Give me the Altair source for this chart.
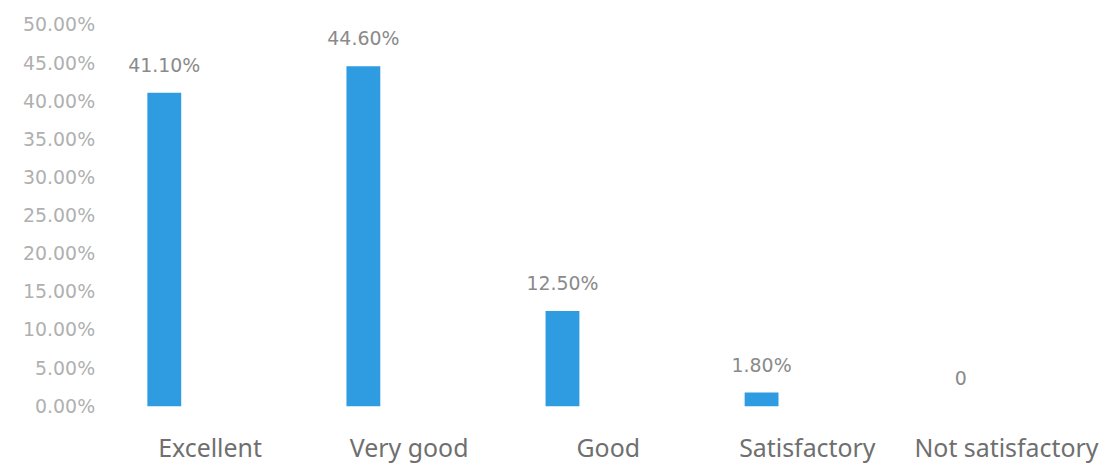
import altair as alt
import pandas as pd

categories = ["Excellent", "Very good", "Good", "Satisfactory", "Not satisfactory"]
values = [0.411, 0.446, 0.125, 0.018, 0.0]
labels = ["41.10%", "44.60%", "12.50%", "1.80%", "0"]
tick_values = [0.0, 0.05, 0.10, 0.15, 0.20, 0.25, 0.30, 0.35, 0.40, 0.45, 0.50]

df = pd.DataFrame({"category": categories, "value": values, "label": labels})

x = alt.X("category:N", sort=categories, title=None,
          scale=alt.Scale(paddingInner=0.83, paddingOuter=0.24),
          axis=alt.Axis(labelAngle=0, domain=False, ticks=False, labelOffset=46,
                        labelPadding=31, labelFontSize=25, labelColor="#6f6f6f",
                        labelFont="Noto Sans", labelLimit=400))
y = alt.Y("value:Q", title=None,
          scale=alt.Scale(domain=[0, 0.5], nice=False),
          axis=alt.Axis(format=".2%", values=tick_values, labelOverlap=False,
                        domain=False, ticks=False, grid=False, labelPadding=5,
                        labelFontSize=19, labelColor="#b0b0b0", labelFont="DejaVu Sans"))

bars = alt.Chart(df).mark_bar(color="#2f9be0").encode(x=x, y=y)
text = alt.Chart(df).mark_text(baseline="middle", dy=-27, fontSize=19,
                               color="#8a8a8a", font="DejaVu Sans").encode(
    x=x, y=y, text="label:N")

chart = (bars + text).properties(
    width=930, height=383,
    autosize=alt.AutoSizeParams(type="none"),
    padding={"left": 92, "top": 16, "right": 80, "bottom": 56},
).configure_view(stroke=None)

chart.save("out.html", embed_options={"renderer": "svg", "actions": False})
